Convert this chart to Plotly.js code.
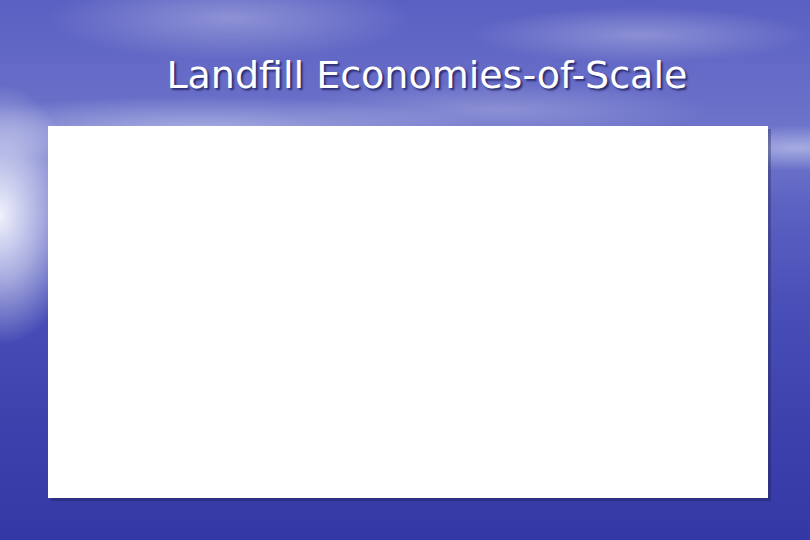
<!DOCTYPE html>
<html>
<head>
<meta charset="utf-8">
<script src="https://cdn.plot.ly/plotly-3.0.1.min.js"></script>
<style>
  html, body { margin: 0; padding: 0; }
  #chart {
    width: 810px; height: 540px;
    background:
      radial-gradient(ellipse 260px 60px at 230px 18px, rgba(255,255,255,0.30), rgba(255,255,255,0) 70%),
      radial-gradient(ellipse 240px 40px at 640px 35px, rgba(255,255,255,0.28), rgba(255,255,255,0) 70%),
      radial-gradient(ellipse 300px 40px at 500px 110px, rgba(255,255,255,0.22), rgba(255,255,255,0) 70%),
      radial-gradient(ellipse 80px 130px at 0px 215px, rgba(240,242,252,1), rgba(225,228,246,0.6) 50%, rgba(200,205,238,0) 100%),
      radial-gradient(ellipse 380px 45px at 200px 130px, rgba(215,220,244,0.55), rgba(215,220,244,0) 75%),
      radial-gradient(ellipse 160px 30px at 800px 148px, rgba(210,215,242,0.55), rgba(210,215,242,0) 75%),
      linear-gradient(to bottom, #5a60c2 0%, #6a70c8 20%, #7178cc 27%, #5c62c2 38%, #4a50b8 55%, #3e43ae 75%, #3438a6 100%);
  }
</style>
</head>
<body>
<div id="chart"></div>
<script>
// the slide shows an empty chart area, so there are no values to plot
var categorias = [];
var valores = [];
var titulo = "Landfill Economies-of-Scale";

var trace1 = {
  x: categorias,
  y: valores,
  type: 'scatter',
  mode: 'lines',
  showlegend: false
};

var layout = {
  width: 810,
  height: 540,
  title: {
    text: titulo,
    font: { family: "DejaVu Sans", size: 38, color: '#ffffff', shadow: '2px 2px 2px #2a2c70' },
    x: 0.527, xref: 'container', xanchor: 'center',
    y: 0.862, yref: 'container', yanchor: 'middle'
  },
  margin: { l: 48, r: 42, t: 126, b: 42, pad: 0 },
  paper_bgcolor: 'rgba(0,0,0,0)',
  plot_bgcolor: 'rgba(0,0,0,0)',
  // white panel with a faint drop shadow, like the slide's chart box
  shapes: [
    { type: 'rect', xref: 'paper', yref: 'paper', x0: 0.004, x1: 1.004, y0: -0.008, y1: 0.992,
      fillcolor: 'rgba(30,30,70,0.35)', line: { width: 0 }, layer: 'below' },
    { type: 'rect', xref: 'paper', yref: 'paper', x0: 0, x1: 1, y0: 0, y1: 1,
      fillcolor: '#ffffff', line: { width: 0 }, layer: 'below' }
  ],
  xaxis: { visible: false, showgrid: false, zeroline: false },
  yaxis: { visible: false, showgrid: false, zeroline: false },
  showlegend: false
};

Plotly.newPlot('chart', [trace1], layout, { displayModeBar: false, staticPlot: true });
</script>
</body>
</html>
